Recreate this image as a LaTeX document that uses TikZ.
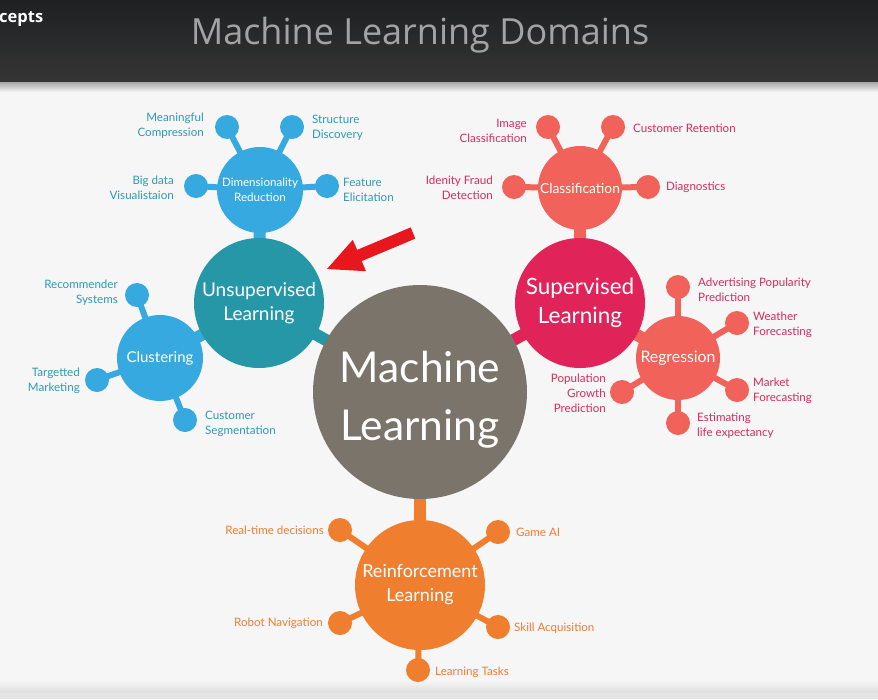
\documentclass[tikz,border=0pt]{standalone}
\usepackage{fontspec}
\setmainfont{Lato}
\newfontfamily\titlefont{Open Sans}
\definecolor{hdrtop}{HTML}{1F2022}
\definecolor{hdrbot}{HTML}{353535}
\definecolor{bgc}{HTML}{F6F6F6}
\definecolor{mlgray}{HTML}{7B746B}
\definecolor{teal}{HTML}{2597A7}
\definecolor{skyb}{HTML}{36A9E1}
\definecolor{bluelab}{HTML}{2E9AB3}
\definecolor{crim}{HTML}{E0245A}
\definecolor{coral}{HTML}{F0625A}
\definecolor{redlab}{HTML}{D92A5E}
\definecolor{orng}{HTML}{EF7F2F}
\definecolor{orlab}{HTML}{EE7D35}
\definecolor{arrred}{HTML}{E8161D}
\pgfdeclarelayer{bg}
\pgfdeclarelayer{links}
\pgfsetlayers{bg,links,main}
\begin{document}
\begin{tikzpicture}[x=1pt,y=-1pt,
  circ/.style={circle,inner sep=0pt,text=white,align=center},
  dot/.style={circle,inner sep=0pt,minimum size=24pt},
  biglink/.style={line width=12pt},
  smalllink/.style={line width=6pt},
  lab/.style={inner sep=0pt,font=\fontsize{11.6}{15}\selectfont},
  bl/.style={lab,text=bluelab},
  rl/.style={lab,text=redlab},
  ol/.style={lab,text=orlab}]
\useasboundingbox (0,0) rectangle (878,699);
\begin{pgfonlayer}{bg}
\fill[bgc] (0,0) rectangle (878,699);
\shade[top color=bgc, bottom color=black!13] (0,680) rectangle (878,693);
\fill[black!10] (0,693) rectangle (878,699);
\shade[top color=hdrtop, bottom color=hdrbot] (0,0) rectangle (878,82);
\shade[top color=black!35, bottom color=bgc] (0,82) rectangle (878,92);
\end{pgfonlayer}
\node[anchor=west,inner sep=0pt,text=white,font=\titlefont\fontsize{16.5}{18}\selectfont\bfseries] (cep) at (-1,19) {cepts};
\node[inner sep=0pt,text=black!36,font=\titlefont\fontsize{36}{40}\selectfont] (title) at (420,35) {Machine Learning Domains};
% main circles
\node[circle,inner sep=0pt,fill=mlgray,minimum size=214pt] (ml) at (420,392) {};
\node[inner sep=0pt,text=white,align=center,font=\fontsize{42.5}{58}\selectfont] (mlt) at (420,400) {Machine\\Learning};
\node[circ,fill=teal,minimum size=130pt,font=\fontsize{19}{24}\selectfont] (un) at (259,303) {Unsupervised\\Learning};
\node[circ,fill=crim,minimum size=130pt,font=\fontsize{22.5}{29}\selectfont] (su) at (580,303) {Supervised\\Learning};
\node[circ,fill=orng,minimum size=130pt,font=\fontsize{18}{24}\selectfont] (re) at (420,585) {Reinforcement\\Learning};
\node[circ,fill=skyb,minimum size=86pt,font=\fontsize{11.6}{15}\selectfont] (dim) at (260,190) {Dimensionality\\Reduction};
\node[circ,fill=skyb,minimum size=86pt,font=\fontsize{15}{16}\selectfont] (cl) at (160,358) {Clustering};
\node[circ,fill=coral,minimum size=84pt,font=\fontsize{13.8}{16}\selectfont] (cla) at (580,188) {Classification};
\node[circ,fill=coral,minimum size=84pt,font=\fontsize{15.8}{16}\selectfont] (reg) at (678,358) {Regression};
% dimensionality satellites
\node[dot,fill=skyb] (d1) at (227,127) {};
\node[dot,fill=skyb] (d2) at (292,127) {};
\node[dot,fill=skyb] (d3) at (196,186) {};
\node[dot,fill=skyb] (d4) at (327,186) {};
\node[bl,anchor=east,align=right] (ld1) at (204,126) {Meaningful\\Compression};
\node[bl,anchor=west,align=left] (ld2) at (312,128) {Structure\\Discovery};
\node[bl,anchor=east,align=right] (ld3) at (174,188) {Big data\\Visualistaion};
\node[bl,anchor=west,align=left] (ld4) at (343,190) {Feature\\Elicitation};
% clustering satellites
\node[dot,fill=skyb] (c1) at (137,295) {};
\node[dot,fill=skyb] (c2) at (97,380) {};
\node[dot,fill=skyb] (c3) at (185,420) {};
\node[bl,anchor=east,align=right] (lc1) at (118,293) {Recommender\\Systems};
\node[bl,anchor=east,align=right] (lc2) at (80,381) {Targetted\\Marketing};
\node[bl,anchor=west,align=left] (lc3) at (205,424) {Customer\\Segmentation};
% classification satellites
\node[dot,fill=coral] (k1) at (548,127) {};
\node[dot,fill=coral] (k2) at (613,127) {};
\node[dot,fill=coral] (k3) at (514,187) {};
\node[dot,fill=coral] (k4) at (648,187) {};
\node[rl,anchor=east,align=right] (lk1) at (527,131) {Image\\Classification};
\node[rl,anchor=west] (lk2) at (633,128) {Customer Retention};
\node[rl,anchor=east,align=right] (lk3) at (493,188) {Idenity Fraud\\Detection};
\node[rl,anchor=west] (lk4) at (666,187) {Diagnostics};
% regression satellites
\node[dot,fill=coral] (r1) at (678,287) {};
\node[dot,fill=coral] (r2) at (737,323) {};
\node[dot,fill=coral] (r3) at (737,390) {};
\node[dot,fill=coral] (r4) at (678,423) {};
\node[dot,fill=coral] (r5) at (622,392) {};
\node[rl,anchor=west,align=left] (lr1) at (698,290) {Advertising Popularity\\Prediction};
\node[rl,anchor=west,align=left] (lr2) at (753,325) {Weather\\Forecasting};
\node[rl,anchor=west,align=left] (lr3) at (753,391) {Market\\Forecasting};
\node[rl,anchor=west,align=left] (lr4) at (697,426) {Estimating\\life expectancy};
\node[rl,anchor=east,align=right] (lr5) at (606,393) {Population\\Growth\\Prediction};
% reinforcement satellites
\node[dot,fill=orng] (o1) at (340,530) {};
\node[dot,fill=orng] (o2) at (498,532) {};
\node[dot,fill=orng] (o3) at (340,623) {};
\node[dot,fill=orng] (o4) at (498,627) {};
\node[dot,fill=orng] (o5) at (418,670) {};
\node[ol,anchor=east] (lo1) at (324,530) {Real-time decisions};
\node[ol,anchor=west] (lo2) at (516,532) {Game AI};
\node[ol,anchor=east] (lo3) at (323,623) {Robot Navigation};
\node[ol,anchor=west] (lo4) at (514,628) {Skill Acquisition};
\node[ol,anchor=west] (lo5) at (435,672) {Learning Tasks};
% connectors
\begin{pgfonlayer}{links}
\draw[biglink,teal] (un.center) -- (ml.center);
\draw[biglink,crim] (su.center) -- (ml.center);
\draw[biglink,orng] (re.center) -- (ml.center);
\draw[biglink,skyb] (dim.center) -- (un.center);
\draw[biglink,skyb] (cl.center) -- (un.center);
\draw[biglink,coral] (cla.center) -- (su.center);
\draw[biglink,coral] (reg.center) -- (su.center);
\foreach \s in {d1,d2,d3,d4} \draw[smalllink,skyb] (dim.center) -- (\s.center);
\foreach \s in {c1,c2,c3} \draw[smalllink,skyb] (cl.center) -- (\s.center);
\foreach \s in {k1,k2,k3,k4} \draw[smalllink,coral] (cla.center) -- (\s.center);
\foreach \s in {r1,r2,r3,r4,r5} \draw[smalllink,coral] (reg.center) -- (\s.center);
\foreach \s in {o1,o2,o3,o4,o5} \draw[smalllink,orng] (re.center) -- (\s.center);
\end{pgfonlayer}
% red arrow
\fill[arrred] (410.7,227.4) -- (415.3,238.6) -- (361.7,261.1) -- (366,271.2) -- (327,269) -- (352.8,239.8) -- (357.1,249.9) -- cycle;
\end{tikzpicture}
\end{document}
